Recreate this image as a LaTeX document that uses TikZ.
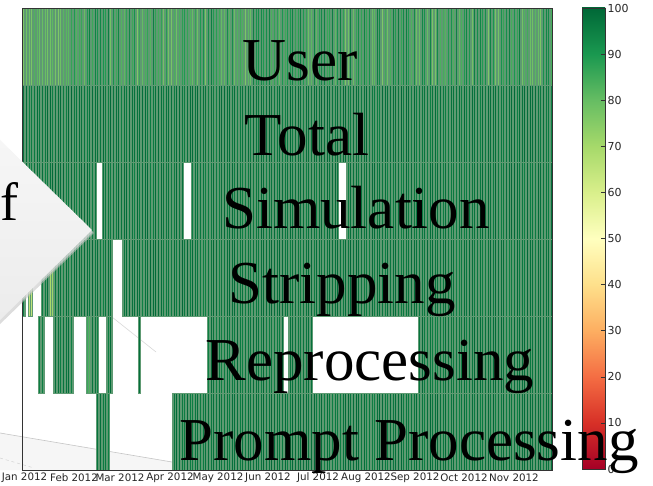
\documentclass[tikz,border=0pt]{standalone}
\usepackage{fontspec}
\setmainfont{Liberation Serif}
\newfontfamily\dejavu{DejaVu Sans}
\definecolor{rdyl0}{HTML}{A50026}
\definecolor{rdyl1}{HTML}{D73027}
\definecolor{rdyl2}{HTML}{F46D43}
\definecolor{rdyl3}{HTML}{FDAE61}
\definecolor{rdyl4}{HTML}{FEE08B}
\definecolor{rdyl5}{HTML}{FFFFBF}
\definecolor{rdyl6}{HTML}{D9EF8B}
\definecolor{rdyl7}{HTML}{A6D96A}
\definecolor{rdyl8}{HTML}{66BD63}
\definecolor{rdyl9}{HTML}{1A9850}
\definecolor{rdyl10}{HTML}{006837}
\definecolor{cellgray}{HTML}{5E9A72}
\definecolor{axisgray}{HTML}{333333}
\definecolor{labelgray}{HTML}{262626}
\newcommand\setvalcolor[1]{%
  \pgfmathsetmacro\hv{min(max(#1,0),99.9)}%
  \pgfmathtruncatemacro\hseg{floor(\hv/10)}%
  \pgfmathtruncatemacro\hpct{round((\hv-10*\hseg)*10)}%
  \pgfmathtruncatemacro\hsegp{\hseg+1}%
  \colorlet{cur}{rdyl\hsegp!\hpct!rdyl\hseg}%
}
% \hmrow{rowtop}{firstday}{lastday}{base}{spread}
\newcommand\hmrow[5]{%
  \foreach \dd in {#2,...,#3}{%
    \pgfmathsetmacro\vv{#4+#5*rand}%
    \setvalcolor{\vv}%
    \filldraw[fill=cur, draw=cellgray, line width=0.2bp]
      ({22+\dd*1.611},#1) rectangle ++(1.611,77);
  }%
}
\tikzset{
  rowtitle/.style={font=\fontsize{61bp}{61bp}\selectfont, text=black, inner sep=0pt, anchor=base},
  axlabel/.style={font=\dejavu\fontsize{10.3bp}{12bp}\selectfont, text=labelgray, inner sep=0pt},
}
\begin{document}
\begin{tikzpicture}[x=1bp,y=-1bp]
\fill[white] (0,0) rectangle (653,486);
\useasboundingbox (0,0) rectangle (653,486);
\pgfmathsetseed{7}
% ghost lines of the background slide
\fill[gray!7] (0,433) -- (172,462) -- (172,470) -- (0,470) -- cycle;
\draw[gray!45, line width=0.6bp] (0,433) -- (172,462);
\draw[gray!35, dashed, line width=0.5bp] (0,458) -- (34,468);
\draw[gray!30, line width=0.6bp] (112,317) -- (156,352);
% User
\hmrow{8}{0}{27}{77}{6}
\hmrow{8}{28}{328}{86}{10}
% Total
\hmrow{85}{0}{328}{97.5}{2.5}
% Simulation
\hmrow{162}{0}{45}{97.5}{2.5}
\hmrow{162}{50}{99}{97.5}{2.5}
\hmrow{162}{105}{195}{97.5}{2.5}
\hmrow{162}{201}{328}{97.5}{2.5}
% Stripping
\hmrow{239}{0}{1}{94}{3}
\hmrow{239}{4}{5}{64}{2}
\hmrow{239}{12}{16}{96}{3}
\hmrow{239}{17}{19}{70}{3}
\hmrow{239}{20}{55}{97.5}{2.5}
\hmrow{239}{62}{328}{97.5}{2.5}
% Reprocessing
\hmrow{316}{10}{13}{97}{2.5}
\hmrow{316}{19}{23}{97}{2.5}
\hmrow{316}{25}{31}{97}{2.5}
\hmrow{316}{40}{41}{84}{2}
\hmrow{316}{42}{46}{97}{2.5}
\hmrow{316}{52}{55}{97}{2.5}
\hmrow{316}{72}{72}{97}{2}
\hmrow{316}{115}{161}{97.5}{2.5}
\hmrow{316}{165}{179}{97.5}{2.5}
\hmrow{316}{246}{328}{97.5}{2.5}
% Prompt processing
\hmrow{393}{46}{53}{97}{2.5}
\hmrow{393}{93}{328}{97.5}{2.5}
% plot frame
\draw[axisgray, line width=0.9bp] (22,8) rectangle (552,470);
% x tick labels
\foreach \lab/\xc [count=\i] in {Jan 2012/24.5,Feb 2012/74,Mar 2012/120,Apr 2012/170,May 2012/218,Jun 2012/268,Jul 2012/318,Aug 2012/366,Sep 2012/415,Oct 2012/464,Nov 2012/514}
  \node[axlabel] (xl\i) at (\xc,477.5) {\lab};
% colorbar
\foreach \k [evaluate=\k as \kn using int(\k+1)] in {0,...,9}
  \shade[bottom color=rdyl\k, top color=rdyl\kn] (582,{469-46.1*\k}) rectangle (605,{469-46.1*(\k+1)});
\draw[axisgray, line width=0.9bp] (582,8) rectangle (605,469);
\foreach \v in {0,10,...,100}{
  \draw[axisgray, line width=0.6bp] (601,{469-4.61*\v}) -- (605,{469-4.61*\v});
  \node[axlabel, anchor=west] (cb\v) at (607.5,{469-4.61*\v}) {\fontsize{11bp}{12bp}\selectfont\v};
}
% grey arrow shape at the left
\fill[gray!45, opacity=0.6] (-3,140) -- (94,233) -- (-3,327) -- cycle;
\fill[gray!25, opacity=0.6] (-3,139) -- (93,232) -- (-3,325) -- cycle;
\shade[top color=gray!7, bottom color=gray!15] (-3,137) -- (92,230) -- (-3,323) -- cycle;
\node[rowtitle, anchor=base west] (f) at (0,221) {\fontsize{54bp}{54bp}\selectfont f};
% row titles
\node[rowtitle] (user) at (300,81) {User};
\node[rowtitle] (total) at (307,156) {Total};
\node[rowtitle] (sim) at (356,229) {Simulation};
\node[rowtitle] (strip) at (342,303) {Stripping};
\node[rowtitle] (repro) at (370,380) {Reprocessing};
\node[rowtitle] (prompt) at (409,460) {Prompt Processing};
\end{tikzpicture}
\end{document}
